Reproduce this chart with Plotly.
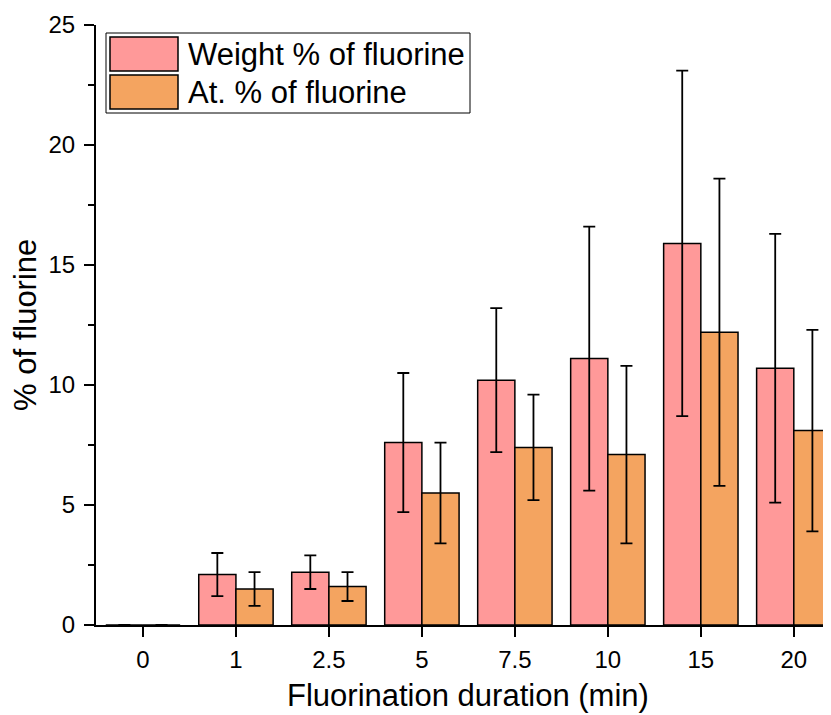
import plotly.graph_objects as go

categories = ["0", "1", "2.5", "5", "7.5", "10", "15", "20"]
weight_pct = [0, 2.1, 2.2, 7.6, 10.2, 11.1, 15.9, 10.7]
weight_err = [0, 0.9, 0.7, 2.9, 3.0, 5.5, 7.2, 5.6]
atomic_pct = [0, 1.5, 1.6, 5.5, 7.4, 7.1, 12.2, 8.1]
atomic_err = [0, 0.7, 0.6, 2.1, 2.2, 3.7, 6.4, 4.2]
series_names = ["Weight % of fluorine", "At. % of fluorine"]
colors = ["#FF9999", "#F4A460"]

# page is offset by an 8px body margin
OFF = 8
W, H = 831 - OFF, 715 - OFF
# plot area in page pixels
L, R, T, B = 96, 831, 25, 625
FONT = "Arial, Liberation Sans, sans-serif"

xs = list(range(len(categories)))

fig = go.Figure()
for name, vals, errs, col in [
    (series_names[0], weight_pct, weight_err, colors[0]),
    (series_names[1], atomic_pct, atomic_err, colors[1]),
]:
    fig.add_trace(go.Bar(
        x=xs, y=vals, name=name,
        marker=dict(color=col, line=dict(color="black", width=1.5)),
        error_y=dict(type="data", array=[e if e > 0 else None for e in errs],
                     color="black", thickness=1.8, width=6, visible=True),
        showlegend=False,
    ))

def px(xp):
    return (xp - L) / (R - L)

def py(yp):
    return (B - yp) / (B - T)

shapes = [
    dict(type="rect", xref="paper", yref="paper", x0=px(106), x1=px(470), y0=py(113), y1=py(33),
         line=dict(color="black", width=1), fillcolor="white", layer="above"),
]
annotations = []
for i, (name, col) in enumerate(zip(series_names, colors)):
    top = 37 + i * 38
    shapes.append(dict(type="rect", xref="paper", yref="paper", x0=px(110), x1=px(178),
                       y0=py(top + 34), y1=py(top), line=dict(color="black", width=1.5),
                       fillcolor=col, layer="above"))
    annotations.append(dict(xref="paper", yref="paper", x=px(186), y=py(top + 17), text=name,
                            showarrow=False, xanchor="left", yanchor="middle",
                            font=dict(family=FONT, size=31, color="black")))

annotations.append(dict(xref="paper", yref="paper", x=px(468), y=py(695),
                        text="Fluorination duration (min)", showarrow=False,
                        xanchor="center", yanchor="middle",
                        font=dict(family=FONT, size=31, color="black")))
annotations.append(dict(xref="paper", yref="paper", x=px(25), y=py(325),
                        text="% of fluorine", showarrow=False, textangle=-90,
                        xanchor="center", yanchor="middle",
                        font=dict(family=FONT, size=31, color="black")))

fig.update_layout(
    width=W, height=H,
    margin=dict(l=L - OFF, r=0, t=T - OFF, b=H - (B - OFF), pad=0),
    paper_bgcolor="white", plot_bgcolor="white",
    barmode="group", bargap=0.2, bargroupgap=0,
    font=dict(family=FONT, size=24, color="black"),
    shapes=shapes, annotations=annotations,
    xaxis=dict(
        tickmode="array", tickvals=xs, ticktext=categories,
        range=[-0.505, 7.4], showgrid=False, zeroline=False,
        showline=True, linecolor="black", linewidth=2,
        ticks="outside", ticklen=10, tickwidth=2, tickcolor="black",
        tickfont=dict(size=24), ticklabelstandoff=2,
    ),
    yaxis=dict(
        range=[0, 25], tickvals=[0, 5, 10, 15, 20, 25], showgrid=False, zeroline=False,
        showline=True, linecolor="black", linewidth=2,
        ticks="outside", ticklen=10, tickwidth=2, tickcolor="black",
        minor=dict(tickvals=[2.5, 7.5, 12.5, 17.5, 22.5], ticks="outside", ticklen=6,
                   tickwidth=2, tickcolor="black"),
        tickfont=dict(size=24), ticklabelstandoff=4,
    ),
)

fig.write_html("out.html")
